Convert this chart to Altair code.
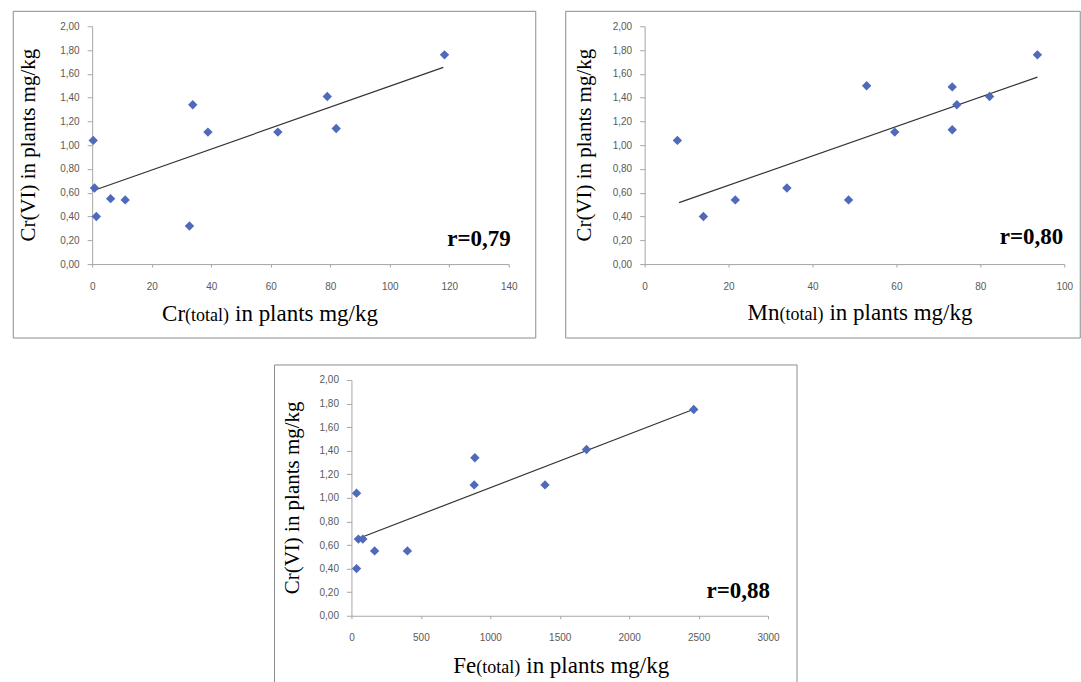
import altair as alt
import pandas as pd

# ---------------- data ----------------
cr_total = [0.35, 0.8, 1.4, 6.2, 11.1, 32.7, 33.8, 38.9, 62.4, 79.0, 82.0, 118.4]
cr_vi_1 = [1.04, 0.64, 0.40, 0.55, 0.54, 0.32, 1.34, 1.11, 1.11, 1.41, 1.14, 1.76]
cr_fit_x = [0, 118]
cr_fit_y = [0.615, 1.655]

mn_total = [7.8, 14.0, 21.6, 33.9, 48.6, 52.9, 59.6, 73.3, 73.3, 74.4, 82.2, 93.6]
cr_vi_2 = [1.04, 0.40, 0.54, 0.64, 0.54, 1.50, 1.11, 1.49, 1.13, 1.34, 1.41, 1.76]
mn_fit_x = [8.2, 93.6]
mn_fit_y = [0.517, 1.572]

fe_total = [37, 37, 50, 82, 167, 403, 889, 884, 1394, 1693, 2465]
cr_vi_3 = [1.04, 0.40, 0.65, 0.65, 0.55, 0.55, 1.34, 1.11, 1.11, 1.41, 1.75]
fe_fit_x = [50, 2465]
fe_fit_y = [0.655, 1.752]

y_ticks = [0.0, 0.2, 0.4, 0.6, 0.8, 1.0, 1.2, 1.4, 1.6, 1.8, 2.0]
y_title = "Cr(VI) in plants mg/kg"
r_labels = ["r=0,79", "r=0,80", "r=0,88"]
x_prefix = ["Cr", "Mn", "Fe"]

BLUE = "#4f69bb"
GRAY = "#a6a6a6"
LABEL = "#595959"
SERIF = "Liberation Serif"
SANS = "Liberation Sans"


def panel(xs, ys, fx, fy, xmax, xstep, w, h, prefix, rtxt, ytx, xa, inx, ty, ry, frame, extra=None):
    one = pd.DataFrame({"k": [0]})
    xscale = alt.Scale(domain=[0, xmax], nice=False)
    yscale = alt.Scale(domain=[0, 2], nice=False)
    xaxis = alt.Axis(values=list(range(0, xmax + 1, xstep)), format="d", title="",
                     grid=False, domainColor=GRAY, tickColor=GRAY, tickSize=3,
                     labelPadding=14, labelFont=SANS, labelFontSize=10,
                     labelColor=LABEL, labelFlush=False)
    yaxis = alt.Axis(values=y_ticks, labelExpr="replace(format(datum.value, '.2f'), '.', ',')",
                     title="", grid=False, domainColor=GRAY, tickColor=GRAY, tickSize=5,
                     labelPadding=8, labelFont=SANS, labelFontSize=10, labelColor=LABEL)
    pts = alt.Chart(pd.DataFrame({"x": xs, "y": ys})).mark_point(
        shape="diamond", filled=True, size=88, color=BLUE, opacity=1
    ).encode(x=alt.X("x:Q", scale=xscale, axis=xaxis), y=alt.Y("y:Q", scale=yscale, axis=yaxis))
    fit = alt.Chart(pd.DataFrame({"x": fx, "y": fy})).mark_line(
        color="#333333", strokeWidth=1.2
    ).encode(x=alt.X("x:Q", scale=xscale, axis=xaxis), y=alt.Y("y:Q", scale=yscale, axis=yaxis))
    box = alt.Chart(one).mark_rect(fillOpacity=0, stroke="#8c8c8c", strokeWidth=1).encode(
        x=alt.value(frame[0]), x2=alt.value(frame[1]), y=alt.value(frame[2]), y2=alt.value(frame[3]))
    yt = alt.Chart(one).mark_text(angle=270, align="center", baseline="middle",
                                  font=SERIF, fontSize=21, color="black").encode(
        x=alt.value(ytx), y=alt.value(h / 2), text=alt.value(y_title))
    t1 = alt.Chart(one).mark_text(align="right", baseline="alphabetic", font=SERIF,
                                  fontSize=23, color="black").encode(
        x=alt.value(xa), y=alt.value(ty), text=alt.value(prefix))
    t2 = alt.Chart(one).mark_text(align="left", baseline="alphabetic", font=SERIF,
                                  fontSize=18, color="black").encode(
        x=alt.value(xa), y=alt.value(ty), text=alt.value("(total)"))
    t3 = alt.Chart(one).mark_text(align="left", baseline="alphabetic", font=SERIF,
                                  fontSize=23, color="black").encode(
        x=alt.value(inx), y=alt.value(ty), text=alt.value("in plants mg/kg"))
    rt = alt.Chart(one).mark_text(align="right", baseline="alphabetic", font=SERIF,
                                  fontSize=23, fontWeight="bold", color="black").encode(
        x=alt.value(419), y=alt.value(ry), text=alt.value(rtxt))
    layers = [box, fit, pts, yt, t1, t2, t3, rt]
    if extra is not None:
        layers.append(alt.Chart(one).mark_point(filled=True, size=1, opacity=0).encode(
            x=alt.value(extra), y=alt.value(h / 2)))
    return alt.layer(*layers).properties(width=w, height=h)


p1 = panel(cr_total, cr_vi_1, cr_fit_x, cr_fit_y, 140, 20, 417, 238, x_prefix[0], r_labels[0],
           -63, 93, 143, 295, 220, (-79, 444, -15, 312))
p2 = panel(mn_total, cr_vi_2, mn_fit_x, mn_fit_y, 100, 20, 420, 238, x_prefix[1], r_labels[1],
           -60, 135, 185, 294, 218, (-79, 436, -15, 312))
p3 = panel(fe_total, cr_vi_3, fe_fit_x, fe_fit_y, 3000, 500, 417, 236, x_prefix[2], r_labels[2],
           -58, 125, 175, 293, 218, (-77, 446, -15, 312), extra=470)

chart = alt.vconcat(
    alt.hconcat(p1, p2, spacing=28),
    p3,
    spacing=25,
    center=True,
).properties(
    padding={"left": 12, "top": 10, "right": 0, "bottom": 0},
    background="white",
).configure_view(strokeWidth=0)

chart.save("out.html", embed_options={"renderer": "svg", "actions": False})
